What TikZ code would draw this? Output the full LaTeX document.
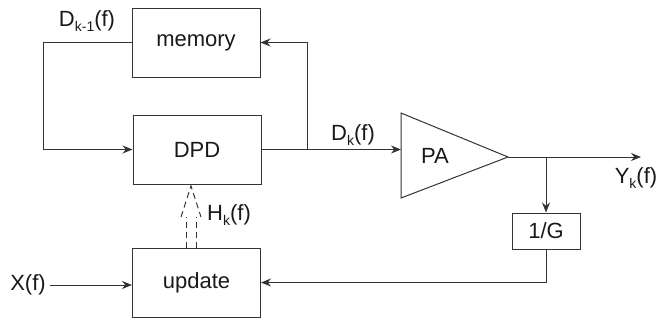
\documentclass[tikz,border=0pt]{standalone}
\usepackage{fontspec}
\setmainfont{Liberation Sans}
\usetikzlibrary{arrows.meta}
\definecolor{linecol}{rgb}{0.2,0.2,0.2}
\definecolor{txtcol}{rgb}{0.1,0.1,0.1}
\newcommand\lowsub[1]{\raisebox{-0.5ex}{\fontsize{7}{8}\selectfont #1}}
\begin{document}
\begin{tikzpicture}[x=0.5pt,y=-0.5pt,
  every node/.style={text=txtcol,font=\fontsize{11}{13}\selectfont},
  blockbox/.style={draw=linecol,line width=0.5pt,inner sep=0pt,minimum width=64pt,minimum height=34.5pt},
  smallbox/.style={draw=linecol,line width=0.5pt,inner sep=0pt,minimum width=34pt,minimum height=18pt},
  wire/.style={draw=linecol,line width=0.5pt},
  arr/.style={wire,-{Stealth[length=5pt,width=4pt]}},
  dashwire/.style={draw=linecol,line width=0.5pt,dash pattern=on 3pt off 2pt}]
\useasboundingbox (0,0) rectangle (662,322);
% blocks
\node[blockbox] (memory) at (196,42.5) {memory};
\node[blockbox] (dpd) at (197,149.5) {DPD};
\node[blockbox] (update) at (196.5,282.5) {update};
\node[smallbox] (g) at (546,231) {1/G};
% PA triangle
\coordinate (patl) at (401,113);
\coordinate (pabl) at (401,198);
\coordinate (patip) at (508,157);
\coordinate (pain) at (401,149.5);
\draw[wire] (patl) -- (patip) -- (pabl) -- cycle;
\node (pa) at (435,156) {PA};
% helper coordinates
\coordinate (lcorner) at (43,42.5);
\coordinate (rbranch) at (307,149.5);
\coordinate (obranch) at (546,157);
\coordinate (yout) at (641,157);
\coordinate (xs) at (50,285);
% connectors
\draw[arr] (memory.west) -- (lcorner) |- (dpd.west);
\draw[arr] (dpd.east) -- (pain);
\draw[arr] (rbranch) |- (memory.east);
\draw[arr] (patip) -- (yout);
\draw[arr] (obranch) -- (g.north);
\draw[arr] (g.south) |- (update.east);
\node (x) at (28,285) {X(f)};
\draw[arr] (xs) -- (update.west|-xs);
% dashed hollow arrow
\coordinate (s1b) at (186,248);
\coordinate (s1t) at (186,217);
\coordinate (s2b) at (196,248);
\coordinate (s2t) at (196,217);
\coordinate (hl) at (181,217);
\coordinate (hr) at (201,217);
\coordinate (apex) at (191,186);
\draw[dashwire] (s1b) -- (s1t);
\draw[dashwire] (s2b) -- (s2t);
\draw[dashwire] (hl) -- (apex) -- (hr);
% labels
\node (ldkm) at (87,21) {D\lowsub{k-1}(f)};
\node (ldk) at (353,135) {D\lowsub{k}(f)};
\node (lyk) at (636,178) {Y\lowsub{k}(f)};
\node (lhk) at (229,215) {H\lowsub{k}(f)};
\end{tikzpicture}
\end{document}
